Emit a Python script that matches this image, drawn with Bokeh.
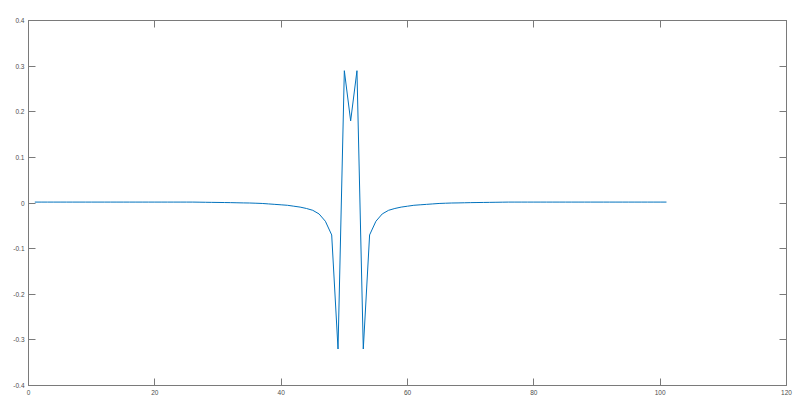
from bokeh.plotting import figure
from bokeh.models import LinearAxis, FixedTicker, Range1d
from bokeh.embed import file_html
from bokeh.resources import INLINE

# data: x = 1..101, y (symmetric around x = 51)
x_vals = list(range(1, 102))
# x = 1 .. 48
left_vals = [0.002, 0.002, 0.002, 0.002, 0.002, 0.002, 0.002, 0.002, 0.002, 0.002,
             0.002, 0.002, 0.002, 0.002, 0.002, 0.002, 0.002, 0.002, 0.002, 0.002,
             0.002, 0.002, 0.002, 0.002, 0.002, 0.002, 0.0018, 0.0016, 0.0014, 0.0012,
             0.001, 0.0008, 0.0005, 0.0002, 0.0, -0.0005, -0.001, -0.002, -0.003, -0.004,
             -0.005, -0.007, -0.009, -0.012, -0.016, -0.024, -0.040, -0.070]
# x = 49 .. 53
center_vals = [-0.320, 0.290, 0.180, 0.290, -0.320]
# x = 54 .. 101
right_vals = left_vals[::-1]
y_vals = left_vals + center_vals + right_vals

x_ticks = [0, 20, 40, 60, 80, 100, 120]
x_tick_labels = ["0", "20", "40", "60", "80", "100", "120"]
y_ticks = [-0.4, -0.3, -0.2, -0.1, 0, 0.1, 0.2, 0.3, 0.4]
y_tick_labels = ["-0.4", "-0.3", "-0.2", "-0.1", "0", "0.1", "0.2", "0.3", "0.4"]

axis_col = "#7a7a7a"
label_col = "#4d4d4d"
font_size = "6.5px"

p = figure(width=800, height=403, output_backend="svg", toolbar_location=None,
           x_range=Range1d(0, 120), y_range=Range1d(-0.4, 0.4),
           min_border_left=28, min_border_right=14, min_border_top=20, min_border_bottom=18)
p.grid.visible = False
p.outline_line_color = axis_col
p.outline_line_width = 1

p.line(x_vals, y_vals, line_color="#0072BD", line_width=1)

def style(ax, labels=True):
    ax.axis_line_color = axis_col
    ax.major_tick_line_color = axis_col
    ax.major_tick_in = 7
    ax.major_tick_out = 0
    ax.minor_tick_line_color = None
    ax.major_label_text_color = label_col
    ax.major_label_text_font = "Liberation Sans"
    ax.major_label_text_font_size = font_size
    ax.major_label_standoff = 4 if labels else 0

p.xaxis.ticker = FixedTicker(ticks=x_ticks)
p.xaxis.major_label_overrides = dict(zip(x_ticks, x_tick_labels))
p.yaxis.ticker = FixedTicker(ticks=y_ticks)
p.yaxis.major_label_overrides = dict(zip(y_ticks, y_tick_labels))
style(p.xaxis[0])
style(p.yaxis[0])

top = LinearAxis(ticker=FixedTicker(ticks=x_ticks))
top.major_label_overrides = {t: "" for t in x_ticks}
style(top, labels=False)
p.add_layout(top, "above")
rgt = LinearAxis(ticker=FixedTicker(ticks=y_ticks))
rgt.major_label_overrides = {t: "" for t in y_ticks}
style(rgt, labels=False)
p.add_layout(rgt, "right")

open("out.html", "w").write(file_html(p, INLINE))
